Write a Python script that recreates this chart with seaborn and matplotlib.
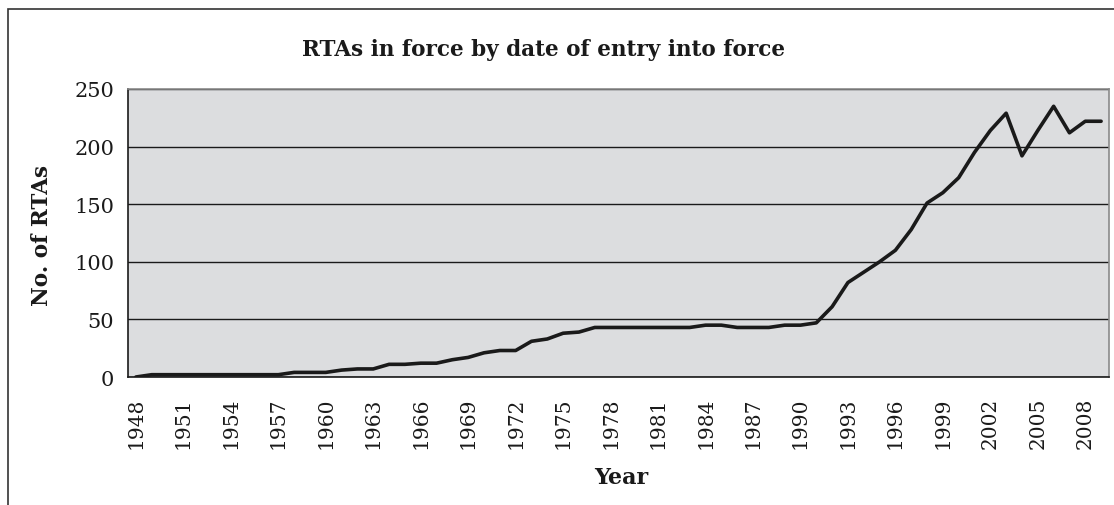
import numpy as np
import pandas as pd
import matplotlib
matplotlib.use("Agg")
import matplotlib.pyplot as plt
import seaborn as sns
from matplotlib.patches import Rectangle

# Data
years = list(range(1948, 2010))
rtas = [0, 2, 2, 2, 2, 2, 2, 2, 2, 2,        # 1948-1957
        4, 4, 4, 6, 7, 7, 11, 11, 12, 12,     # 1958-1967
        15, 17, 21, 23, 23, 31, 33, 38, 39, 43,  # 1968-1977
        43, 43, 43, 43, 43, 43, 45, 45, 43, 43,  # 1978-1987
        43, 45, 45, 47, 61, 82, 91, 100, 110, 128,  # 1988-1997
        151, 160, 173, 195, 214, 229, 192, 214, 235, 212,  # 1998-2007
        222, 222]  # 2008-2009
label_years = list(range(1948, 2009, 3))
y_ticks = [0, 50, 100, 150, 200, 250]

df = pd.DataFrame({"Year": years, "RTAs": rtas})

sns.set_style("white")
plt.rcParams["font.family"] = ["DejaVu Serif"]

W, H = 1114, 506
fig = plt.figure(figsize=(W / 100, H / 100), dpi=100)
ax = fig.add_axes([128 / W, 1 - 378 / H, (1109 - 128) / W, (378 - 90) / H])
ax.set_facecolor("#dcdddf")

sns.lineplot(data=df, x="Year", y="RTAs", color="#1a1a1a", linewidth=2.6, ax=ax)

ax.set_xlim(1947.5, 2009.5)
ax.set_ylim(0, 250)
ax.set_yticks(y_ticks)
ax.set_yticklabels([str(v) for v in y_ticks], fontsize=15)
ax.yaxis.grid(True, color="#1a1a1a", linewidth=1.0)
ax.set_axisbelow(True)

ax.set_xticks(label_years)
ax.set_xticklabels([str(y) for y in label_years], rotation=90, fontsize=14.5)
ax.set_xticks([y - 0.5 for y in years] + [2009.5], minor=True)
ax.tick_params(axis="x", which="major", length=0, pad=14, colors="#1a1a1a")
ax.tick_params(axis="x", which="minor", length=7, width=1, color="#1a1a1a", direction="out")
ax.tick_params(axis="y", which="major", length=7, width=1, color="#1a1a1a", direction="out",
               labelcolor="#1a1a1a", pad=3)

for side in ["left", "bottom"]:
    ax.spines[side].set_color("#1a1a1a")
    ax.spines[side].set_linewidth(1.2)
for side in ["top", "right"]:
    ax.spines[side].set_visible(True)
    ax.spines[side].set_color("#8a8a8a")
    ax.spines[side].set_linewidth(1.2)

ax.set_xlabel("")
ax.set_ylabel("")
fig.text(543 / W, 1 - 50 / H, "RTAs in force by date of entry into force",
         ha="center", va="center", fontsize=15.5, fontweight="bold", color="#1a1a1a")
fig.text(621 / W, 1 - 478 / H, "Year", ha="center", va="center",
         fontsize=16, fontweight="bold", color="#1a1a1a")
fig.text(42 / W, 1 - 236 / H, "No. of RTAs", ha="center", va="center", rotation=90,
         fontsize=15.5, fontweight="bold", color="#1a1a1a")

# outer chart frame (top and left edges visible)
fig.patches.append(Rectangle((8 / W, -0.1), 1.2, 1.1 - 10 / H, transform=fig.transFigure,
                             fill=False, edgecolor="#333333", linewidth=1.2))

fig.savefig("out.png", dpi=100)
